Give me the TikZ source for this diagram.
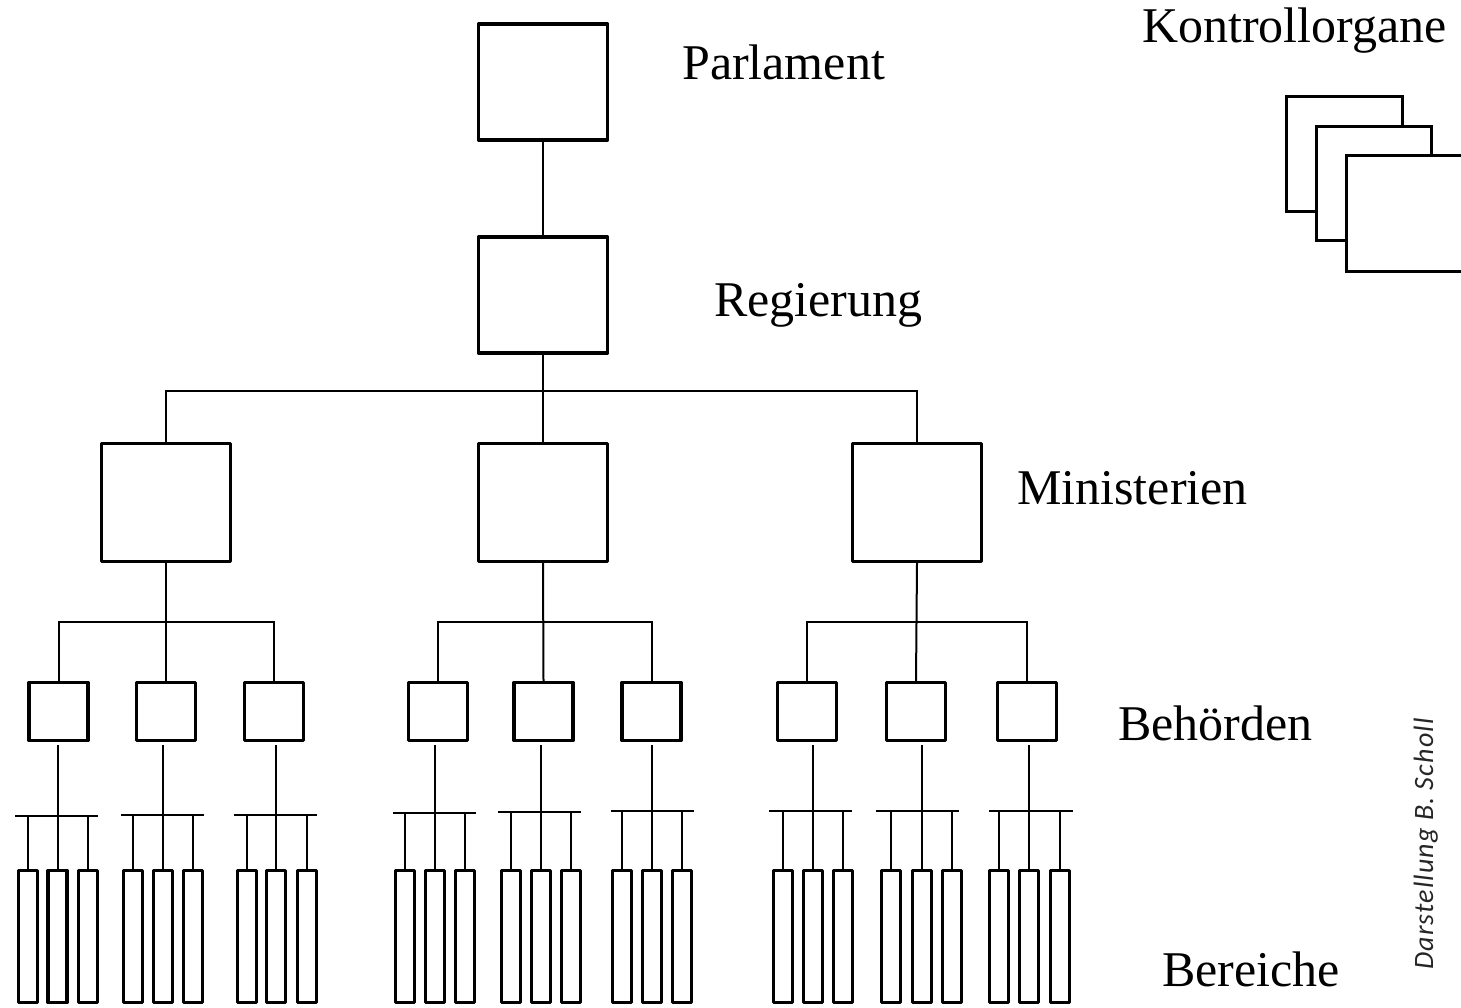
\documentclass[tikz,border=0pt]{standalone}
\usepackage{fontspec}
\setmainfont{Liberation Serif}
\newfontfamily\creditfont{Carlito}[LetterSpace=4]
\begin{document}
\begin{tikzpicture}[x=1pt,y=-1pt,
  boxline/.style={draw, line width=3.2pt, fill=white, inner sep=0pt, line join=round},
  bigbox/.style={boxline, minimum width=129pt, minimum height=116pt},
  minbox/.style={boxline, minimum width=129pt, minimum height=118pt},
  smallbox/.style={boxline, minimum width=59pt, minimum height=58pt},
  tallbox/.style={boxline, minimum width=19pt, minimum height=132pt},
  conn/.style={line width=2pt},
  lbl/.style={anchor=base west, inner sep=0pt, font=\fontsize{50}{60}\selectfont}]
\clip (0,0) rectangle (1461,1007);

% top of the hierarchy
\node[bigbox] (parl) at (543,82) {};
\node[bigbox] (reg) at (543,295) {};
\draw[conn] (parl) -- (reg);

% ministries
\node[minbox] (min1) at (166,502.5) {};
\node[minbox] (min2) at (543,502.5) {};
\node[minbox] (min3) at (917,502.5) {};
\coordinate (rbar) at (543,391);
\draw[conn, line width=2.5pt] (min1.north) |- (rbar) -| (min3.north);
\draw[conn] (reg.south) -- (min2.north);

% authorities (three per ministry) and their divisions
\foreach \g/\bx/\yb/\xa/\xb/\ca/\cb/\cc in {
  1/58.5/816/15/98/28/57.5/88,
  2/166/815/121/204/133/163/193,
  3/274/815/234/317/247/276/307,
  4/438/813/393/476/405/435/465,
  5/543.5/812/498/581/511/541/571,
  6/651.5/811/611/694/622/652/682,
  7/807/811/769/852/783/813/843,
  8/916/811/876/959/891/922/952,
  9/1027/811/989/1073/999/1029/1060}{
  \node[smallbox] (beh\g) at (\bx,711.5) {};
  \node[tallbox] (ber\g a) at (\ca,936.5) {};
  \node[tallbox] (ber\g b) at (\cb,936.5) {};
  \node[tallbox] (ber\g c) at (\cc,936.5) {};
  \coordinate (bar\g l) at (\xa,\yb);
  \coordinate (bar\g r) at (\xb,\yb);
  \draw[conn] (bar\g l) -- (bar\g r);
  \draw[conn, shorten >=3pt] (ber\g b.north) -- (ber\g b.north |- beh\g.south);
  \draw[conn] (ber\g a.north) -- (ber\g a.north |- bar\g l);
  \draw[conn] (ber\g c.north) -- (ber\g c.north |- bar\g l);
}

% ministry-to-authority connectors
\foreach \m/\a/\b/\c in {1/1/2/3, 2/4/5/6, 3/7/8/9}{
  \coordinate (mbar\m) at (beh\b.north |- 0,622);
  \draw[conn] (beh\a.north) |- (mbar\m) -| (beh\c.north);
  \draw[conn] (min\m.south) -- (beh\b.north);
}

% control bodies, stacked
\draw[line width=3.2pt, fill=white] (1286.5,96.5) rectangle (1402.5,211.5);
\draw[line width=3.2pt, fill=white] (1316.5,126.5) rectangle (1431.5,240.5);
\draw[line width=3.2pt, fill=white] (1346.5,155.5) rectangle (1464,271.5);

% level labels
\node[lbl] (tParl) at (682,79) {Parlament};
\node[lbl] (tReg) at (714,316) {Regierung};
\node[lbl] (tMin) at (1017,504) {Ministerien};
\node[lbl] (tBeh) at (1118,740) {Behörden};
\node[lbl] (tBer) at (1162,986) {Bereiche};
\node[lbl] (tKon) at (1142,42) {Kontrollorgane};

% credit line
\node[rotate=90, anchor=base west, inner sep=0pt, text=black!85,
      font=\creditfont\itshape\fontsize{28}{32}\selectfont] (credit) at (1433,970) {Darstellung B. Scholl};
\end{tikzpicture}
\end{document}
